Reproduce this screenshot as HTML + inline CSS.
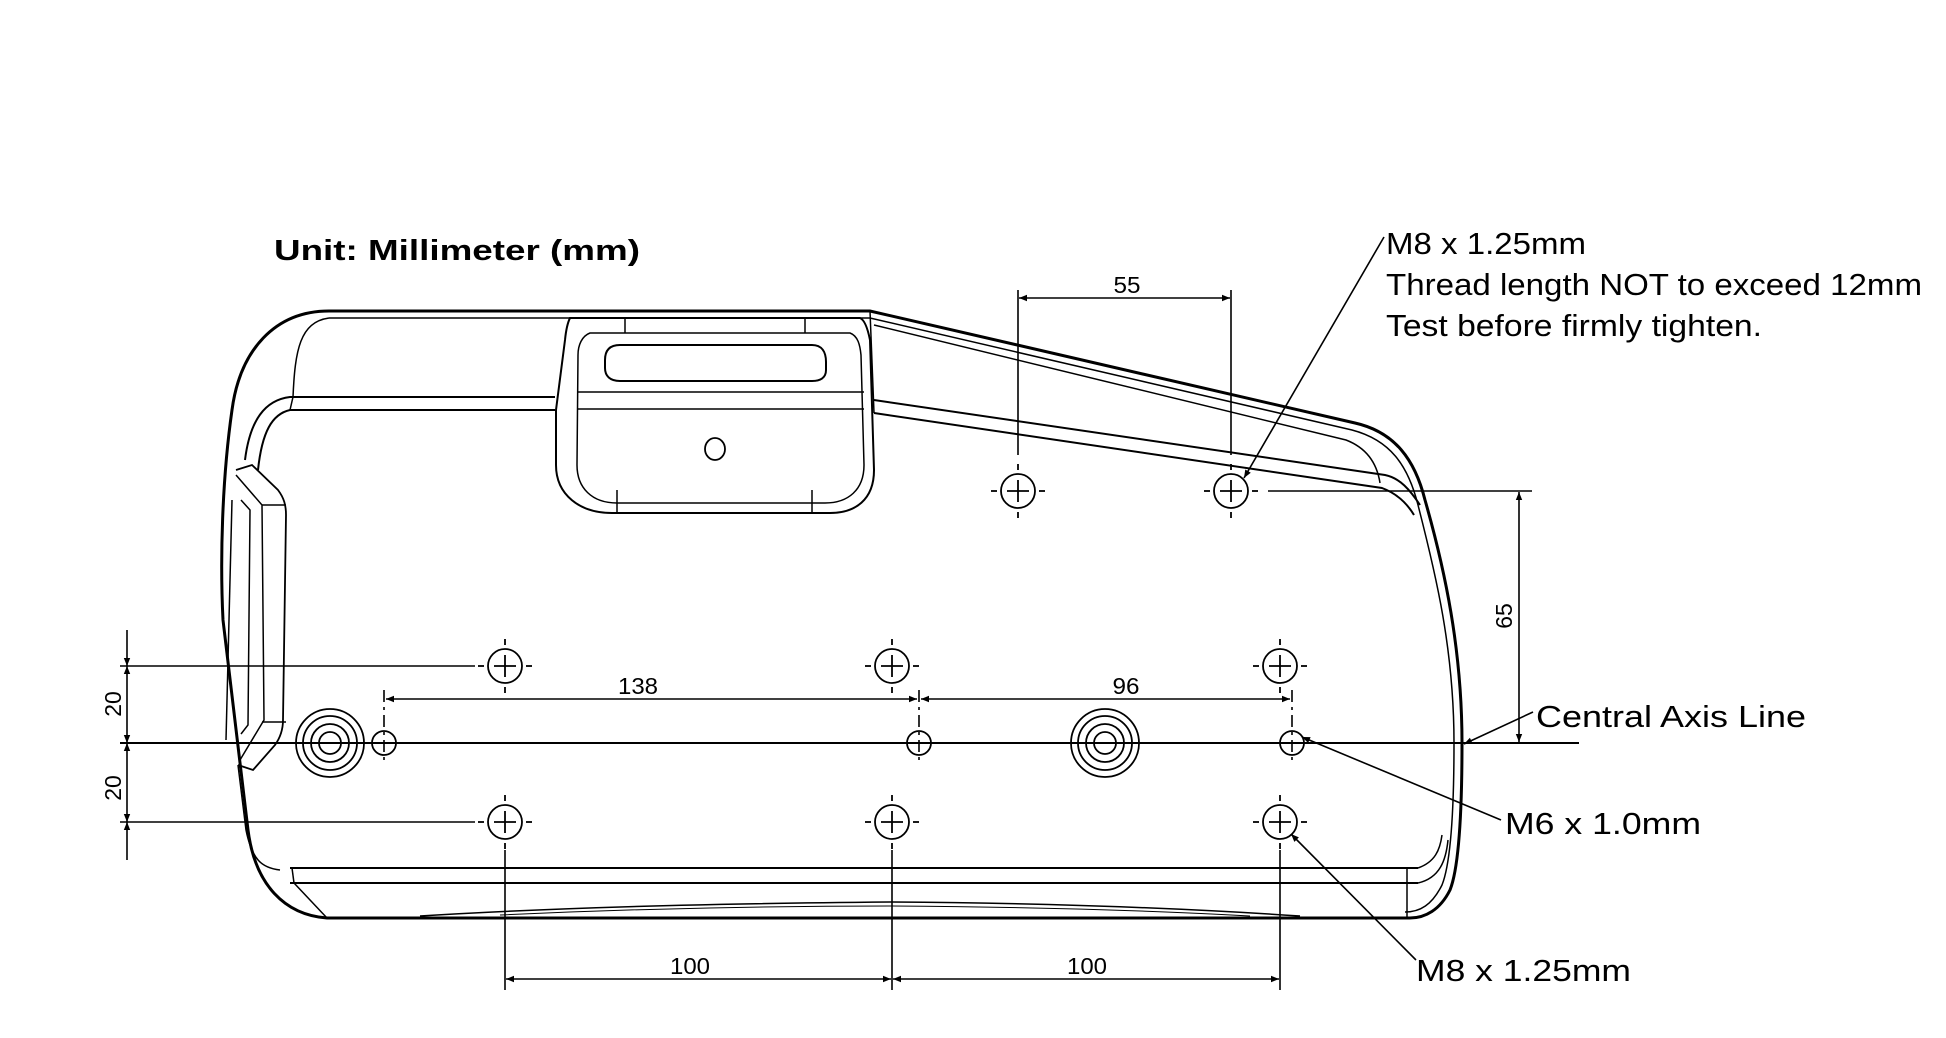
<!DOCTYPE html>
<html><head><meta charset="utf-8"><style>
html,body{margin:0;padding:0;background:#fff;}
svg{display:block;}
text{font-family:"Liberation Sans",sans-serif;fill:#000;}
</style></head><body>
<svg width="1946" height="1038" viewBox="0 0 1946 1038" xmlns="http://www.w3.org/2000/svg">
<defs>
<marker id="ar" viewBox="0 0 10 10" refX="10" refY="5" markerWidth="22" markerHeight="8" markerUnits="userSpaceOnUse" orient="auto-start-reverse"><path d="M0,1 L10,5 L0,9 Z" fill="#000"/></marker>
<g id="h8" fill="none" stroke="#000" stroke-width="1.8"><circle cx="0" cy="0" r="17"/><line x1="-11" y1="0" x2="11" y2="0"/><line x1="0" y1="-11" x2="0" y2="11"/><line x1="-27" y1="0" x2="-21" y2="0"/><line x1="21" y1="0" x2="27" y2="0"/><line x1="0" y1="-27" x2="0" y2="-21"/><line x1="0" y1="21" x2="0" y2="27"/></g>
</defs>
<rect width="1946" height="1038" fill="#fff"/>
<g fill="none" stroke="#000" stroke-width="2">
<path d="M329,311 L870,311 L1355,423 C1395,432 1415,460 1425,500 C1445,570 1462,650 1462,743 C1462,820 1458,870 1450,890 C1440,910 1425,918 1410,918 L327,918 C285,915 255,885 248,830 L223,620 C220,560 222,480 232,410 C240,350 275,311 329,311 Z" stroke-width="3"/>
<path d="M329,318 L870,318 L1352,430 C1390,440 1408,465 1418,505 C1436,575 1454,650 1454,743 C1454,820 1450,865 1442,885 C1432,905 1420,912 1405,912" stroke-width="1.5"/>
<path d="M555,397 L290,397 C265,400 250,420 245,460" stroke-width="2"/>
<path d="M555,410 L290,410 C272,414 262,432 258,470" stroke-width="2"/>
<path d="M329,318 C300,322 295,350 293,397" stroke-width="1.5"/>
<path d="M293,397 L290,410" stroke-width="1.5"/>
<path d="M874,400 L1385,475 C1400,478 1410,490 1420,505" stroke-width="2"/>
<path d="M874,413 L1382,488 C1398,494 1408,505 1414,515" stroke-width="2"/>
<path d="M874,325 L1346,440 C1372,450 1378,470 1380,483" stroke-width="1.5"/>
<line x1="870" y1="311" x2="874" y2="413" stroke-width="1.5"/>
<path d="M570,318 L860,318 C865,320 868,330 870,340 L874,470 C874,500 855,513 830,513 L612,513 C580,513 556,495 556,465 L556,410 L565,340 C566,330 568,322 570,318 Z" stroke-width="2"/>
<path d="M590,333 L850,333 C858,336 860,345 861,355 L864,465 C864,490 848,503 825,503 L617,503 C592,503 577,488 577,465 L578,355 C578,345 582,336 590,333 Z" stroke-width="1.5"/>
<line x1="578" y1="392" x2="864" y2="392" stroke-width="1.5"/>
<line x1="578" y1="409" x2="864" y2="409" stroke-width="1.5"/>
<line x1="617" y1="490" x2="617" y2="513" stroke-width="1.5"/>
<line x1="812" y1="490" x2="812" y2="513" stroke-width="1.5"/>
<line x1="625" y1="318" x2="625" y2="333" stroke-width="1.5"/>
<line x1="805" y1="318" x2="805" y2="333" stroke-width="1.5"/>
<path d="M620,345 L812,345 C822,345 826,352 826,362 L826,370 C826,378 820,381 812,381 L620,381 C610,381 605,376 605,368 L605,360 C605,350 610,345 620,345 Z" stroke-width="2"/>
<ellipse cx="715" cy="449" rx="10" ry="11" stroke-width="1.8"/>
<path d="M236,470 L252,465 L278,490 C284,498 286,505 286,515 L283,720 C283,730 280,738 275,745 L253,770 L238,765" stroke-width="1.8"/>
<path d="M236,475 L262,505 L264,720 L240,760" stroke-width="1.5"/>
<path d="M241,500 L250,510 L248,725 L241,734" stroke-width="1.5"/>
<line x1="232" y1="500" x2="226" y2="740" stroke-width="1.5"/>
<line x1="262" y1="505" x2="286" y2="505" stroke-width="1.5"/>
<line x1="262" y1="722" x2="286" y2="722" stroke-width="1.5"/>
<path d="M238,765 L246,830 C252,860 262,868 280,870" stroke-width="1.5"/>
<line x1="290" y1="868" x2="1418" y2="868" stroke-width="2"/>
<line x1="290" y1="883" x2="1418" y2="883" stroke-width="2"/>
<line x1="292" y1="868" x2="294" y2="883" stroke-width="1.5"/>
<line x1="1407" y1="868" x2="1407" y2="918" stroke-width="1.5"/>
<line x1="294" y1="883" x2="327" y2="918" stroke-width="1.5"/>
<path d="M1418,868 C1435,862 1440,850 1442,835" stroke-width="1.5"/>
<path d="M1418,883 C1440,878 1446,860 1448,840" stroke-width="1.5"/>
<path d="M420,916 C600,905 780,903 892,902 C1050,903 1180,908 1300,916" stroke-width="1.5"/>
<path d="M500,915 C650,908 780,906 892,906 C1040,907 1160,911 1250,916" stroke-width="1"/>
</g>
<g fill="none" stroke="#000" stroke-width="1.8">
<circle cx="330" cy="743" r="34"/><circle cx="330" cy="743" r="27"/><circle cx="330" cy="743" r="19"/><circle cx="330" cy="743" r="11"/>
<circle cx="1105" cy="743" r="34"/><circle cx="1105" cy="743" r="27"/><circle cx="1105" cy="743" r="19"/><circle cx="1105" cy="743" r="11"/>
</g>
<g fill="none" stroke="#000" stroke-width="1.8">
<use href="#h8" x="505" y="666"/><use href="#h8" x="892" y="666"/><use href="#h8" x="1280" y="666"/>
<use href="#h8" x="505" y="822"/><use href="#h8" x="892" y="822"/><use href="#h8" x="1280" y="822"/>
<use href="#h8" x="1018" y="491"/><use href="#h8" x="1231" y="491"/>
<circle cx="384" cy="743" r="12"/><line x1="376" y1="743" x2="392" y2="743"/>
<circle cx="919" cy="743" r="12"/>
<circle cx="1292" cy="743" r="12"/>
</g>
<g fill="none" stroke="#000" stroke-width="1.6">
<line x1="120" y1="743" x2="1579" y2="743" stroke-width="2"/>
<line x1="120" y1="666" x2="475" y2="666"/>
<line x1="120" y1="822" x2="475" y2="822"/>
<line x1="127" y1="630" x2="127" y2="666" marker-end="url(#ar)"/>
<line x1="127" y1="666" x2="127" y2="743" marker-start="url(#ar)" marker-end="url(#ar)"/>
<line x1="127" y1="822" x2="127" y2="860" marker-start="url(#ar)"/>
<line x1="127" y1="743" x2="127" y2="822" marker-start="url(#ar)" marker-end="url(#ar)"/>
<line x1="384" y1="690" x2="384" y2="765" stroke-dasharray="12,5,3,5"/>
<line x1="919" y1="690" x2="919" y2="765" stroke-dasharray="12,5,3,5"/>
<line x1="1292" y1="690" x2="1292" y2="765" stroke-dasharray="12,5,3,5"/>
<line x1="386" y1="699" x2="917" y2="699" marker-start="url(#ar)" marker-end="url(#ar)"/>
<line x1="921" y1="699" x2="1290" y2="699" marker-start="url(#ar)" marker-end="url(#ar)"/>
<line x1="505" y1="850" x2="505" y2="990"/>
<line x1="892" y1="850" x2="892" y2="990"/>
<line x1="1280" y1="850" x2="1280" y2="990"/>
<line x1="506" y1="979" x2="891" y2="979" marker-start="url(#ar)" marker-end="url(#ar)"/>
<line x1="893" y1="979" x2="1279" y2="979" marker-start="url(#ar)" marker-end="url(#ar)"/>
<line x1="1018" y1="290" x2="1018" y2="455"/>
<line x1="1231" y1="290" x2="1231" y2="455"/>
<line x1="1019" y1="298" x2="1230" y2="298" marker-start="url(#ar)" marker-end="url(#ar)"/>
<line x1="1268" y1="491" x2="1532" y2="491"/>
<line x1="1519" y1="492" x2="1519" y2="742" marker-start="url(#ar)" marker-end="url(#ar)"/>
<line x1="1384" y1="237" x2="1244" y2="478" marker-end="url(#ar)"/>
<line x1="1533" y1="712" x2="1464" y2="744" marker-end="url(#ar)"/>
<line x1="1501" y1="820" x2="1302" y2="737" marker-end="url(#ar)"/>
<line x1="1416" y1="960" x2="1291" y2="834" marker-end="url(#ar)"/>
</g>
<text x="274" y="260" font-size="29" font-weight="bold" textLength="366" lengthAdjust="spacingAndGlyphs">Unit:  Millimeter (mm)</text>
<text x="1386" y="254" font-size="31" textLength="200" lengthAdjust="spacingAndGlyphs">M8 x 1.25mm</text>
<text x="1386" y="295" font-size="31" textLength="536" lengthAdjust="spacingAndGlyphs">Thread length NOT to exceed 12mm</text>
<text x="1386" y="336" font-size="31" textLength="376" lengthAdjust="spacingAndGlyphs">Test before firmly tighten.</text>
<text x="1536" y="727" font-size="31" textLength="270" lengthAdjust="spacingAndGlyphs">Central Axis Line</text>
<text x="1505" y="834" font-size="31" textLength="196" lengthAdjust="spacingAndGlyphs">M6 x 1.0mm</text>
<text x="1416" y="981" font-size="31" textLength="215" lengthAdjust="spacingAndGlyphs">M8 x 1.25mm</text>
<g font-size="23">
<text x="638" y="694" text-anchor="middle" textLength="40" lengthAdjust="spacingAndGlyphs">138</text>
<text x="1126" y="694" text-anchor="middle" textLength="27" lengthAdjust="spacingAndGlyphs">96</text>
<text x="690" y="974" text-anchor="middle" textLength="40" lengthAdjust="spacingAndGlyphs">100</text>
<text x="1087" y="974" text-anchor="middle" textLength="40" lengthAdjust="spacingAndGlyphs">100</text>
<text x="1127" y="293" text-anchor="middle" textLength="27" lengthAdjust="spacingAndGlyphs">55</text>
<text transform="translate(121,704) rotate(-90)" text-anchor="middle">20</text>
<text transform="translate(121,788) rotate(-90)" text-anchor="middle">20</text>
<text transform="translate(1512,616) rotate(-90)" text-anchor="middle">65</text>
</g>
</svg>
</body></html>
